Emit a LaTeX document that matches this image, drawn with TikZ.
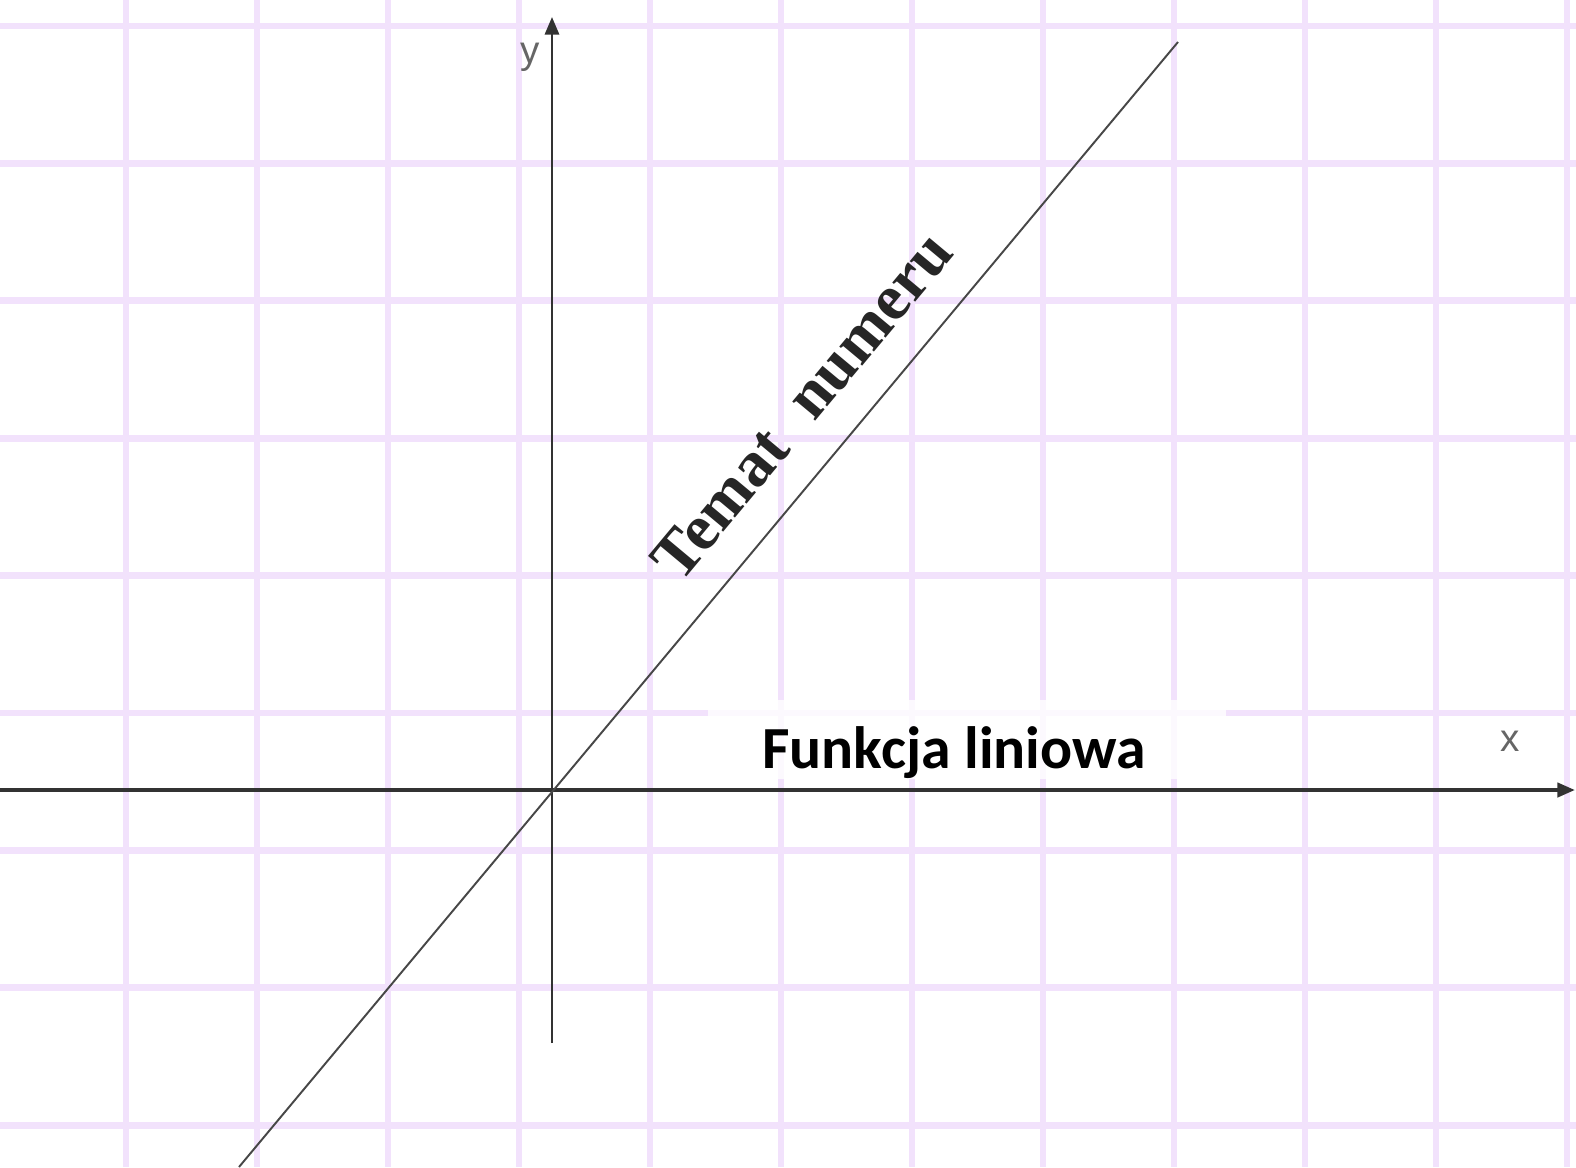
\documentclass[tikz,border=0pt]{standalone}
\usepackage{fontspec}
\setmainfont{Liberation Serif}
\setsansfont{Liberation Sans}
\newfontfamily\carlito{Carlito}
\usepackage{xcolor}
\usetikzlibrary{arrows.meta, positioning}

\definecolor{gridlila}{RGB}{242,226,252}
\definecolor{axisgray}{RGB}{50,50,50}

\begin{document}
\begin{tikzpicture}[
  x=0.02cm, y=-0.02cm,
  gridline/.style={draw=gridlila, line width=3.8pt},
  axis/.style={-{Triangle[length=10pt, width=8pt]}, draw=axisgray},
  graph/.style={draw=axisgray!90, line width=1.1pt},
  axlbl/.style={font=\sffamily\fontsize{22}{22}\selectfont, text=black!60, inner sep=0pt},
  title/.style={font=\carlito\bfseries\fontsize{34}{34}\selectfont, inner sep=0pt},
  topic/.style={font=\bfseries\fontsize{37}{37}\selectfont, text=black!85, inner sep=0pt},
]
  \useasboundingbox[fill=white] (0,0) rectangle (1576,1167);

  % kratka
  \foreach \gx in {-5,126,...,1567}
    \draw[gridline] (\gx,0) -- (\gx,1167);
  \foreach \i in {0,...,8}
    \draw[gridline] (0,26+137.4*\i) -- (1576,26+137.4*\i);

  % biale tlo pod tytulem
  \fill[white, opacity=0.8] (708,700) rectangle (1226,779);

  \coordinate (O) at (552,790);
  \coordinate (xstart) at (0,790);
  \coordinate (xtip) at (1575,790);
  \coordinate (ybot) at (552,1043);
  \coordinate (ytip) at (552,17);
  \coordinate (lbot) at (239,1167);
  \coordinate (ltop) at (1178,42);

  \draw[axis, line width=2.2pt] (xstart) -- (xtip);
  \draw[axis, line width=1.6pt] (ybot) -- (ytip);
  \draw[graph] (lbot) -- node[topic, sloped, pos=0.645, above=0.66cm] (tn) {Temat\hspace{0.3em} numeru} (ltop);

  \node[axlbl] (ylab) at (530,57) {y};
  \node[axlbl] (xlab) at (1510,741) {x};
  \node[title, anchor=base] (fl) at (954,768) {Funkcja liniowa};
\end{tikzpicture}
\end{document}
